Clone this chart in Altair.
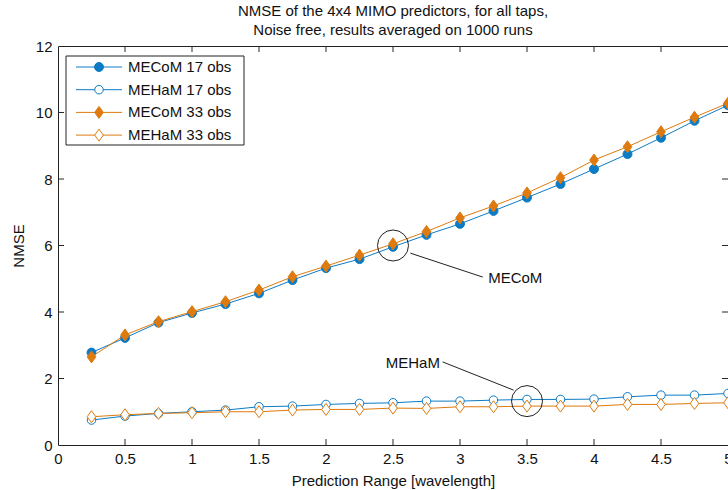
import altair as alt
import pandas as pd

# ---------------- data ----------------
x_vals = [0.25, 0.5, 0.75, 1.0, 1.25, 1.5, 1.75, 2.0, 2.25, 2.5,
          2.75, 3.0, 3.25, 3.5, 3.75, 4.0, 4.25, 4.5, 4.75, 5.0]
mecom17 = [2.78, 3.22, 3.68, 3.97, 4.24, 4.56, 4.96, 5.32, 5.59, 5.96,
           6.32, 6.65, 7.04, 7.44, 7.85, 8.30, 8.75, 9.24, 9.75, 10.22]
meham17 = [0.75, 0.87, 0.95, 1.00, 1.05, 1.15, 1.17, 1.22, 1.25, 1.27,
           1.32, 1.32, 1.35, 1.37, 1.37, 1.38, 1.45, 1.50, 1.50, 1.55]
mecom33 = [2.65, 3.31, 3.71, 4.01, 4.31, 4.66, 5.06, 5.38, 5.71, 6.05,
           6.42, 6.83, 7.19, 7.58, 8.04, 8.57, 8.97, 9.42, 9.86, 10.28]
meham33 = [0.85, 0.91, 0.95, 0.97, 1.00, 1.00, 1.05, 1.07, 1.07, 1.11,
           1.10, 1.15, 1.15, 1.17, 1.17, 1.17, 1.22, 1.22, 1.25, 1.27]

series_names = ["MECoM 17 obs", "MEHaM 17 obs", "MECoM 33 obs", "MEHaM 33 obs"]
series_values = [mecom17, meham17, mecom33, meham33]

x_ticks = [0, 0.5, 1, 1.5, 2, 2.5, 3, 3.5, 4, 4.5, 5]
y_ticks = [0, 2, 4, 6, 8, 10, 12]

title_lines = ["NMSE of the 4x4 MIMO predictors, for all taps,",
               " Noise free, results averaged on 1000 runs"]
x_title = "Prediction Range [wavelength]"
y_title = "NMSE"

# annotations
circle_x = [2.5, 3.5]
circle_y = [6.0, 1.32]
line_x = [2.63, 2.87]
line_y = [5.77, 2.50]
line_x2 = [3.17, 3.40]
line_y2 = [5.05, 1.65]
ann_labels = ["MECoM", "MEHaM"]
ann_x = [3.21, 2.85]
ann_y = [5.02, 2.47]

# ---------------- styles ----------------
BLUE = "#0C7BC5"
ORANGE = "#DE7A0E"
DIAMOND = "M0,-1L0.72,0L0,1L-0.72,0Z"
styles = [
    dict(color=BLUE, shape="circle", filled=True, size=80),
    dict(color=BLUE, shape="circle", filled=False, size=72),
    dict(color=ORANGE, shape=DIAMOND, filled=True, size=144),
    dict(color=ORANGE, shape=DIAMOND, filled=False, size=144),
]

FONT = "Liberation Sans"
W, H = 670, 399

xscale = alt.Scale(domain=[0, 5], nice=False, zero=False)
yscale = alt.Scale(domain=[0, 12], nice=False, zero=False)
X = alt.X("x:Q", scale=xscale,
          axis=alt.Axis(values=x_ticks, title=x_title, grid=False, domain=False,
                        ticks=False, labelPadding=6, labelFlush=False, format="~g",
                        titlePadding=7, labelOverlap=False))
Y = alt.Y("y:Q", scale=yscale,
          axis=alt.Axis(values=y_ticks, title=y_title, grid=False, domain=False,
                        ticks=False, labelPadding=6, titlePadding=9, format="~g",
                        labelOverlap=False))

layers = []

# frame ticks (inward)
xt = pd.DataFrame({"x": x_ticks[1:-1]})
yt = pd.DataFrame({"y": y_ticks[1:-1]})
TK = 6
tick_col = "#262626"
layers.append(alt.Chart(xt).mark_rule(color=tick_col, strokeWidth=1).encode(
    x=X, y=alt.value(H), y2=alt.value(H - TK)))
layers.append(alt.Chart(xt).mark_rule(color=tick_col, strokeWidth=1).encode(
    x=X, y=alt.value(0), y2=alt.value(TK)))
layers.append(alt.Chart(yt).mark_rule(color=tick_col, strokeWidth=1).encode(
    y=Y, x=alt.value(0), x2=alt.value(TK)))
layers.append(alt.Chart(yt).mark_rule(color=tick_col, strokeWidth=1).encode(
    y=Y, x=alt.value(W), x2=alt.value(W - TK)))

# data series
for name, vals, st in zip(series_names, series_values, styles):
    df = pd.DataFrame({"x": x_vals, "y": vals})
    layers.append(alt.Chart(df).mark_line(color=st["color"], strokeWidth=1).encode(x=X, y=Y))
    layers.append(alt.Chart(df).mark_point(
        shape=st["shape"], size=st["size"], filled=True, opacity=1,
        fill=st["color"] if st["filled"] else "white",
        stroke=st["color"], strokeWidth=1).encode(x=X, y=Y))

# annotations
cdf = pd.DataFrame({"x": circle_x, "y": circle_y})
layers.append(alt.Chart(cdf).mark_point(shape="circle", size=961, filled=False,
                                        stroke="#222222", strokeWidth=1, opacity=1).encode(x=X, y=Y))
ldf = pd.DataFrame({"x": line_x, "y": line_y, "x2": line_x2, "y2": line_y2})
layers.append(alt.Chart(ldf).mark_rule(color="#222222", strokeWidth=1).encode(
    x=X, y=Y, x2="x2:Q", y2="y2:Q"))
tdf = pd.DataFrame({"x": ann_x[:1], "y": ann_y[:1], "t": ann_labels[:1]})
layers.append(alt.Chart(tdf).mark_text(align="left", baseline="middle", font=FONT,
                                       fontSize=15, color="#111111").encode(x=X, y=Y, text="t:N"))
tdf2 = pd.DataFrame({"x": ann_x[1:], "y": ann_y[1:], "t": ann_labels[1:]})
layers.append(alt.Chart(tdf2).mark_text(align="right", baseline="middle", font=FONT,
                                        fontSize=15, color="#111111").encode(x=X, y=Y, text="t:N"))

# legend (drawn manually: line + marker symbols)
one = pd.DataFrame({"a": [0]})
layers.append(alt.Chart(one).mark_rect(fill="white", stroke="#222222", strokeWidth=1).encode(
    x=alt.value(8), x2=alt.value(186), y=alt.value(10), y2=alt.value(99)))
for i, (name, st) in enumerate(zip(series_names, styles)):
    yy = 21 + i * 22.7
    layers.append(alt.Chart(one).mark_rule(color=st["color"], strokeWidth=1).encode(
        x=alt.value(18), x2=alt.value(64), y=alt.value(yy)))
    layers.append(alt.Chart(one).mark_point(
        shape=st["shape"], size=st["size"], filled=True, opacity=1,
        fill=st["color"] if st["filled"] else "white",
        stroke=st["color"], strokeWidth=1).encode(x=alt.value(41), y=alt.value(yy)))
    layers.append(alt.Chart(one).mark_text(align="left", baseline="middle", font=FONT,
                                           fontSize=15, color="#111111").encode(
        x=alt.value(70), y=alt.value(yy), text=alt.value(name)))

chart = alt.layer(*layers).properties(
    width=W, height=H,
    title=alt.TitleParams(title_lines, anchor="middle", fontSize=15, font=FONT,
                          fontWeight="normal", color="#111111", lineHeight=19, offset=1),
    autosize=alt.AutoSizeParams(type="none"),
    padding={"left": 58, "top": 46, "right": 0, "bottom": 45},
    background="white",
).configure_view(stroke="#222222", strokeWidth=1).configure_axis(
    labelFont=FONT, labelFontSize=15, labelColor="#111111",
    titleFont=FONT, titleFontSize=15, titleFontWeight="normal", titleColor="#111111",
)

chart.save("out.html", embed_options={"renderer": "svg", "actions": False})
